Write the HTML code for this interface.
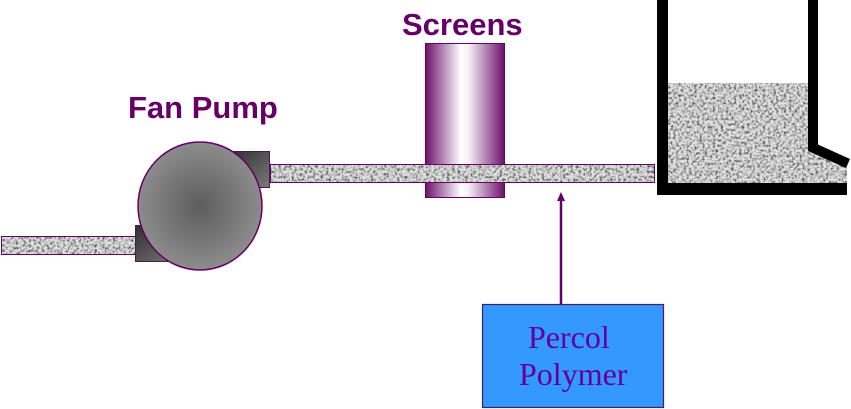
<!DOCTYPE html>
<html>
<head>
<meta charset="utf-8">
<style>
  html,body{margin:0;padding:0;background:#fff;}
  svg{display:block;}
</style>
</head>
<body>
<svg width="851" height="409" viewBox="0 0 851 409" xmlns="http://www.w3.org/2000/svg">
  <defs>
    <filter id="noise" x="0" y="0" width="100%" height="100%">
      <feTurbulence type="fractalNoise" baseFrequency="0.38" numOctaves="2" seed="7" result="t"/>
      <feColorMatrix in="t" type="matrix" values="0 0 0 0 0  0 0 0 0 0  0 0 0 0 0  0 0 0 -2.6 1.6" result="a"/>
      <feFlood flood-color="#555555" result="dark"/>
      <feComposite in="dark" in2="a" operator="in" result="d"/>
      <feFlood flood-color="#e2e2e2" result="light"/>
      <feMerge><feMergeNode in="light"/><feMergeNode in="d"/></feMerge>
    </filter>
    <clipPath id="slantClip">
      <polygon points="808,148 847,166 847,183 808,183"/>
    </clipPath>
    <radialGradient id="pumpG" cx="50%" cy="50%" r="50%">
      <stop offset="0" stop-color="#5c5c5c"/>
      <stop offset="1" stop-color="#8c8c8c"/>
    </radialGradient>
    <linearGradient id="blkG" x1="0" y1="0" x2="1" y2="1">
      <stop offset="0" stop-color="#2e2e2e"/>
      <stop offset="1" stop-color="#7a7a7a"/>
    </linearGradient>
    <linearGradient id="scrG" x1="0" y1="0" x2="1" y2="0">
      <stop offset="0" stop-color="#6a0e68"/>
      <stop offset="0.45" stop-color="#ffffff"/>
      <stop offset="0.55" stop-color="#f4eef4"/>
      <stop offset="1" stop-color="#6a0e68"/>
    </linearGradient>
  </defs>

  <!-- Labels -->
  <text x="128" y="118" font-family="Liberation Sans, sans-serif" font-weight="bold" font-size="31" fill="#660066">Fan Pump</text>
  <text x="402" y="35" font-family="Liberation Sans, sans-serif" font-weight="bold" font-size="31" fill="#660066">Screens</text>

  <!-- Left pipe -->
  <rect x="1" y="236" width="136" height="19" filter="url(#noise)"/>
  <rect x="1.5" y="236.5" width="136" height="18" fill="none" stroke="#660066" stroke-width="1"/>

  <!-- Pump blocks -->
  <rect x="135" y="225" width="45" height="37" fill="url(#blkG)"/>
  <rect x="228" y="151" width="42" height="37" fill="url(#blkG)"/>
  <rect x="135.5" y="225.5" width="44" height="36" fill="none" stroke="#4a1a4a" stroke-width="1"/>
  <rect x="228.5" y="151.5" width="41" height="36" fill="none" stroke="#4a1a4a" stroke-width="1"/>

  <!-- Pump circle -->
  <ellipse cx="200" cy="206" rx="62" ry="64" fill="url(#pumpG)" stroke="#660066" stroke-width="1.5"/>

  <!-- Right pipe -->
  <rect x="270" y="164" width="385" height="19" filter="url(#noise)"/>

  <!-- Screens cylinder (front parts) -->
  <rect x="425" y="43" width="80" height="121" fill="url(#scrG)"/>
  <rect x="425" y="183" width="80" height="15" fill="url(#scrG)"/>
  <rect x="425.5" y="43.5" width="79" height="154" fill="none" stroke="#660066" stroke-width="1"/>
  <!-- pipe over screen -->
  <rect x="425" y="164" width="80" height="19" filter="url(#noise)"/>
  <rect x="270.5" y="164.5" width="384" height="18" fill="none" stroke="#660066" stroke-width="1"/>

  <!-- Tank slurry -->
  <rect x="668" y="83" width="180" height="100" filter="url(#noise)" clip-path="url(#slantClip)"/>
  <rect x="668" y="83" width="142" height="100" filter="url(#noise)"/>
  <!-- Tank walls -->
  <rect x="657" y="0" width="11" height="195" fill="#000"/>
  <rect x="657" y="183" width="190" height="12" fill="#000"/>
  <rect x="808" y="0" width="10" height="148" fill="#000"/>
  <polygon points="808,140 850,159 846,168 808,151" fill="#000"/>

  <!-- Arrow -->
  <line x1="561" y1="304" x2="561" y2="200" stroke="#660066" stroke-width="2.5"/>
  <polygon points="561,192 557,201 565,201" fill="#660066"/>

  <!-- Polymer box -->
  <rect x="482.5" y="304.5" width="181" height="103" fill="#3399ff" stroke="#4a1a6a" stroke-width="1.2"/>
  <text x="528" y="348" font-family="Liberation Serif, serif" font-size="32" fill="#660099">Percol</text>
  <text x="519" y="385" font-family="Liberation Serif, serif" font-size="32" fill="#660099">Polymer</text>
</svg>
</body>
</html>
